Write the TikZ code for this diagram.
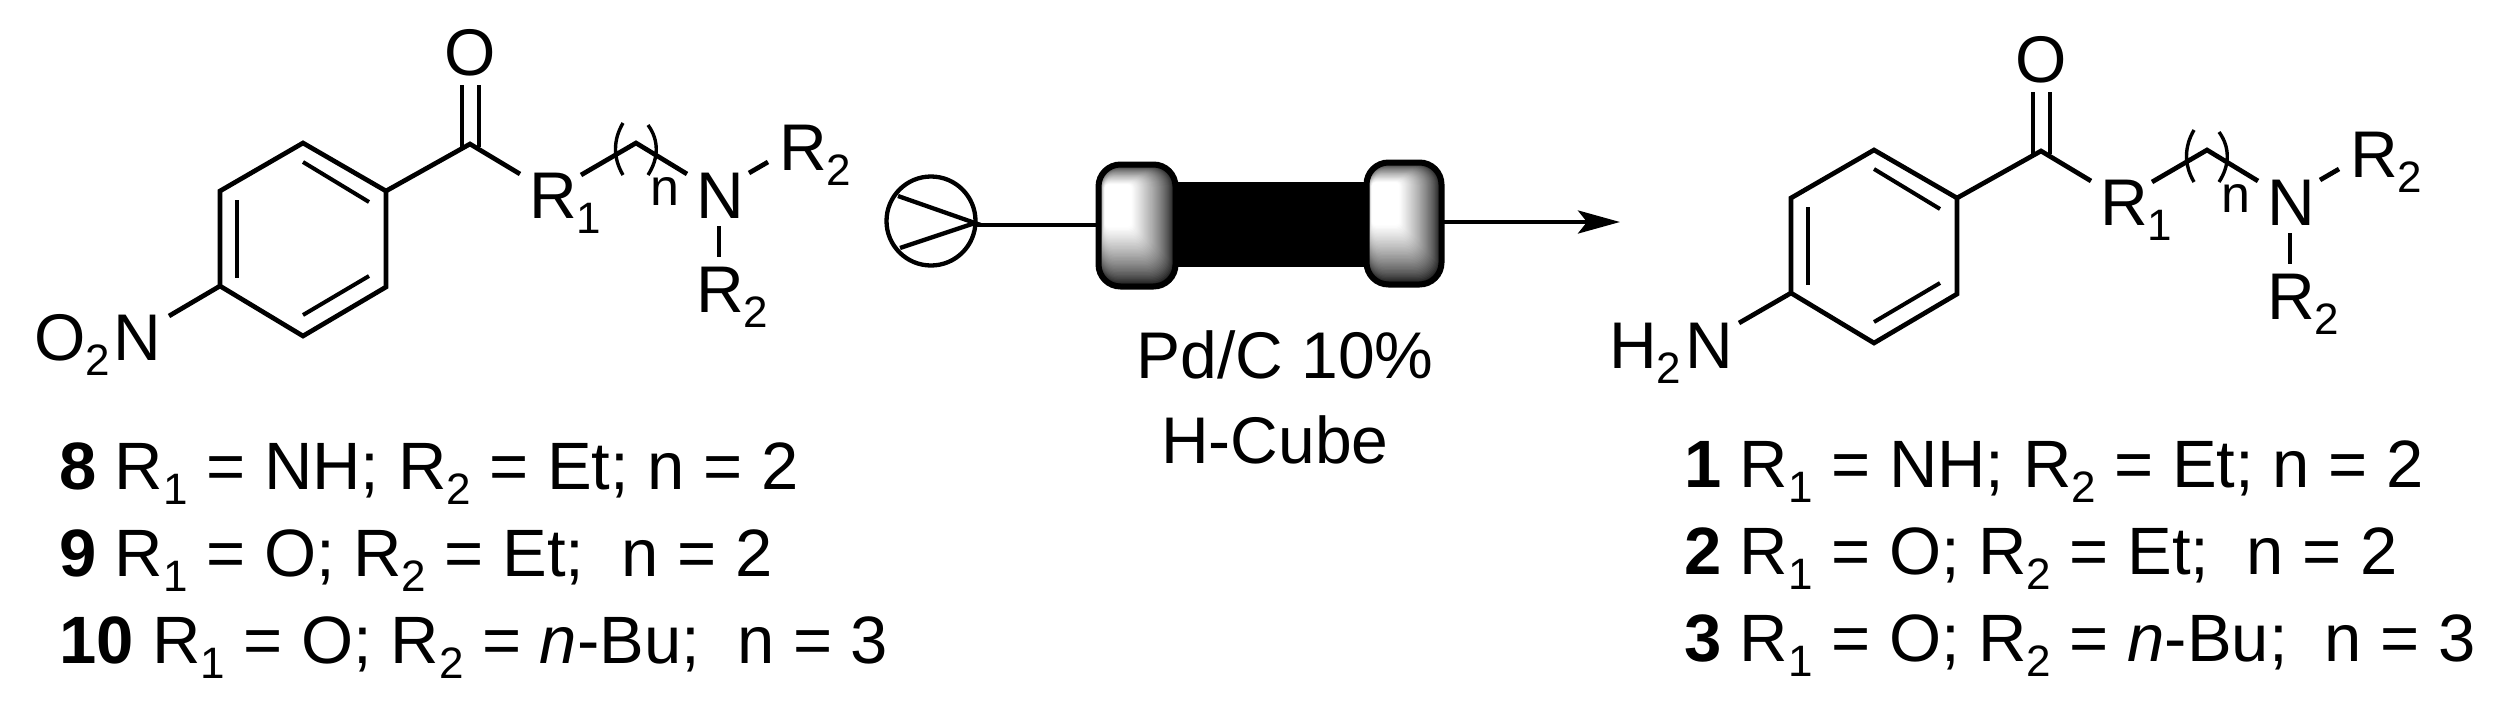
\documentclass[tikz,border=0pt]{standalone}
\usepackage{fontspec}
\setmainfont{Liberation Sans}
\usetikzlibrary{arrows.meta}
\newcommand{\subdig}[1]{\raisebox{-15pt}{\fontsize{44}{44}\selectfont #1}}
\tikzset{
  txt/.style={anchor=base west,inner sep=0pt,outer sep=0pt,font=\fontsize{66}{70}\selectfont},
  tabletxt/.style={anchor=base west,inner sep=0pt,outer sep=0pt,font=\fontsize{67}{70}\selectfont},
  smalltxt/.style={anchor=base west,inner sep=0pt,outer sep=0pt,font=\fontsize{52}{56}\selectfont},
  ctxt/.style={anchor=base,inner sep=0pt,outer sep=0pt,font=\fontsize{66}{70}\selectfont},
  bond/.style={draw=black,line width=4.7pt,line join=miter},
  thinbond/.style={draw=black,line width=4pt},
  paren/.style={draw=black,line width=3.4pt},
  flow/.style={draw=black,line width=4.3pt}
}
% nested rounded rectangles: a rectangular fountain from the outline to the highlight
\newcommand{\capshape}[9]{%
  \foreach \i in {0,...,44}{%
    \pgfmathsetmacro{\tt}{(\i+0.5)/45}%
    \pgfmathsetmacro{\g}{min(1,pow(\tt,0.62)*1.03)}%
    \definecolor{capg}{gray}{\g}%
    \pgfmathsetmacro{\xa}{#1+(#5-#1)*\tt}%
    \pgfmathsetmacro{\ya}{#2+(#6-#2)*\tt}%
    \pgfmathsetmacro{\xb}{#3+(#7-#3)*\tt}%
    \pgfmathsetmacro{\yb}{#4+(#8-#4)*\tt}%
    \pgfmathsetmacro{\rr}{22-19*\tt}%
    \fill[capg,rounded corners=\rr pt] (\xa,\ya) rectangle (\xb,\yb);
  }%
  \node[inner sep=0pt,minimum size=0pt] (#9) at ({(#1+#3)/2},{(#2+#4)/2}) {};
  \draw[black,line width=6pt,rounded corners=22pt] (#1,#2) rectangle (#3,#4);
}
% the molecule without its para substituent
\newcommand{\molecule}{%
  \coordinate (r1) at (303,143);
  \coordinate (r2) at (386,191);
  \coordinate (r3) at (386,287);
  \coordinate (r4) at (303,336);
  \coordinate (r5) at (220,286);
  \coordinate (r6) at (220,191);
  \draw[bond] (r1) -- (r2) -- (r3) -- (r4) -- (r5) -- (r6) -- cycle;
  \coordinate (i1a) at (303,162); \coordinate (i1b) at (369,202);
  \coordinate (i2a) at (237,200); \coordinate (i2b) at (237,278);
  \coordinate (i3a) at (303,315); \coordinate (i3b) at (369,276);
  \draw[thinbond] (i1a) -- (i1b);
  \draw[thinbond] (i2a) -- (i2b);
  \draw[thinbond] (i3a) -- (i3b);
  \coordinate (co) at (470,144);
  \coordinate (ce1) at (520,174);
  \coordinate (ch1) at (581,175);
  \coordinate (ch2) at (636,143);
  \coordinate (ch3) at (687,174);
  \draw[bond] (r2) -- (co) -- (ce1);
  \draw[bond] (ch1) -- (ch2) -- (ch3);
  \coordinate (oa1) at (462,85); \coordinate (oa2) at (462,147);
  \coordinate (ob1) at (479,85); \coordinate (ob2) at (479,147);
  \draw[thinbond] (oa1) -- (oa2);
  \draw[thinbond] (ob1) -- (ob2);
  \coordinate (pa1) at (623,123); \coordinate (pa2) at (623,175);
  \coordinate (pb1) at (648,125); \coordinate (pb2) at (648,175);
  \draw[paren] (pa1) .. controls (613,140) and (613,158) .. (pa2);
  \draw[paren] (pb1) .. controls (659,140) and (659,158) .. (pb2);
  \coordinate (n1a) at (749,173); \coordinate (n1b) at (768,162);
  \coordinate (n2a) at (719,226); \coordinate (n2b) at (719,257);
  \draw[bond] (n1a) -- (n1b);
  \draw[bond] (n2a) -- (n2b);
  \node[txt] (oxy) at (444,75) {O};
  \node[txt] (rone) at (529,218) {R\subdig{1}};
  \node[smalltxt] (nn) at (650,205) {n};
  \node[txt] (nit) at (696,218) {N};
  \node[txt] (rtwoa) at (779,170) {R\subdig{2}};
  \node[txt] (rtwob) at (696,312) {R\subdig{2}};
}
\begin{document}
\begin{tikzpicture}[x=1pt,y=-1pt]
\useasboundingbox (0,0) rectangle (2510,710);

% left molecule
\begin{scope}[name prefix=L-]
  \molecule
  \coordinate (sub) at (169,316);
  \draw[bond] (r5) -- (sub);
  \node[txt] (nitro) at (34,360) {O\subdig{2}\kern4pt N};
\end{scope}

% right molecule
\begin{scope}[shift={(1571,7)},name prefix=R-]
  \molecule
  \coordinate (sub) at (168,316);
  \draw[bond] (r5) -- (sub);
  \node[txt] (amine) at (38,361) {H\subdig{2}\kern4pt N};
\end{scope}

% flow apparatus
\node[draw=black,line width=4.3pt,circle,minimum size=89pt,inner sep=0pt] (pump) at (931,221) {};
\coordinate (ta) at (898,196);
\coordinate (tb) at (975,223);
\coordinate (tc) at (900,248);
\draw[flow,line join=miter] (ta) -- (tb) -- (tc);
\node[fill=black,inner sep=0pt,minimum width=192pt,minimum height=85pt] (column) at (1270.5,224.5) {};
\coordinate (lin) at (975,225);
\coordinate (lcap) at (1099,225);
\draw[flow] (lin) -- (lcap);
\capshape{1098.5}{164.5}{1175.5}{286.5}{1105}{185}{1130}{225}{capL}
\capshape{1366.5}{162.5}{1441.5}{284.5}{1372}{183}{1398}{223}{capR}
\coordinate (rout) at (1442,222);
\coordinate (rtip) at (1620,222);
\draw[flow,-{Stealth[length=42pt,width=23pt,inset=9pt]}] (rout) -- (rtip);
\node[ctxt] (cat) at (1285,378) {Pd/C 10\%};
\node[ctxt] (cube) at (1275,463) {H-Cube};

% left table
\node[tabletxt] (a1) at (59,489) {\textbf{8} R\subdig{1} = NH; R\subdig{2} = Et; n = 2};
\node[tabletxt] (a2) at (59,576) {\textbf{9} R\subdig{1} = O; R\subdig{2} = Et;\ \ n = 2};
\node[tabletxt] (a3) at (59,663) {\textbf{10} R\subdig{1} = O; R\subdig{2} = \textit{n}-Bu;\ \ n = 3};

% right table
\node[tabletxt] (b1) at (1684,487) {\textbf{1} R\subdig{1} = NH; R\subdig{2} = Et; n = 2};
\node[tabletxt] (b2) at (1684,574) {\textbf{2} R\subdig{1} = O; R\subdig{2} = Et;\ \ n = 2};
\node[tabletxt] (b3) at (1684,661) {\textbf{3} R\subdig{1} = O; R\subdig{2} = \textit{n}-Bu;\ \ n = 3};
\end{tikzpicture}
\end{document}
